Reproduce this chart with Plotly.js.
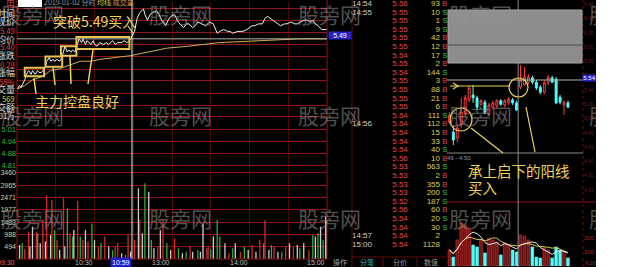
<!DOCTYPE html>
<html><head><meta charset="utf-8">
<script src="https://cdn.plot.ly/plotly-3.0.1.min.js"></script>
<style>html,body{margin:0;padding:0;background:#fff;overflow:hidden}#chart{width:596px;height:267px}</style>
</head><body><div id="chart"></div><script>
// ---------- intraday (2019-01-02) ----------
const prevClose = 5.20;
const priceMin = [0,2,3,5,6,8,9,11,12,14,16,17,19,20,22,23,25,26,28,29,31,33,34,36,37,39,40,42,43,45,
  47,48,50,51,53,54,56,57,59,60,62,64,67,69,71,74,76,78,81,83,85,87,88,91,93,95,98,99,101,103,
  105,108,110,112,115,117,119,122,124,126,129,131,133,136,138,140,143,146,149,152,155,157,160,163,165,167,171,173,175,178,
  180,182,184,187,190,192,194,196,198,202,204,207,209,212,215,217,220,222,225,227,229,231,233,235,236,239,240];
const price = [5.22,5.24,5.23,5.26,5.27,5.31,5.32,5.30,5.32,5.30,5.32,5.31,5.31,5.32,5.34,5.37,5.39,5.37,5.38,5.37,5.38,5.37,5.38,5.42,5.45,5.42,5.43,5.42,5.43,5.42,
  5.46,5.49,5.47,5.49,5.46,5.48,5.47,5.46,5.48,5.46,5.45,5.47,5.46,5.47,5.46,5.48,5.46,5.47,5.47,5.48,5.47,5.48,5.49,5.53,5.60,5.63,5.65,5.62,5.59,5.62,
  5.63,5.64,5.62,5.59,5.56,5.59,5.61,5.62,5.59,5.57,5.55,5.57,5.57,5.55,5.56,5.58,5.57,5.56,5.58,5.57,5.52,5.53,5.54,5.53,5.53,5.52,5.53,5.53,5.53,5.54,
  5.55,5.56,5.56,5.57,5.57,5.60,5.61,5.60,5.59,5.57,5.56,5.57,5.57,5.58,5.57,5.57,5.58,5.59,5.59,5.58,5.59,5.57,5.56,5.55,5.54,5.54,5.54];
const avgMin = [0,6,12,20,26,33,41,49,57,64,76,88,95,103,116,132,157,188,219,240];
const avgPrice = [5.22,5.24,5.27,5.29,5.32,5.33,5.35,5.37,5.37,5.38,5.39,5.40,5.41,5.42,5.44,5.45,5.47,5.48,5.49,5.49];
const volMin = [2,4,6,9,10,12,15,16,18,20,22,23,26,27,29,31,33,36,37,39,41,43,44,47,49,51,53,55,58,60,
  63,65,68,71,74,76,78,81,84,86,88,91,94,95,97,99,102,104,106,109,111,113,116,119,122,125,128,131,134,136,
  140,142,144,147,148,150,152,155,157,161,164,167,169,173,176,179,182,185,188,191,192,195,197,199,202,205,208,211,214,217,
  219,222,226,229,231,233,235,237,239,240];
const vol = [560,630,400,1100,500,1300,1100,1030,630,1570,700,2570,960,2370,1160,760,360,2440,500,2030,1030,900,1160,2330,900,760,1160,700,1430,760,
  500,630,900,500,360,500,630,230,160,960,300,760,2840,1570,1030,3040,2700,760,430,500,1160,1570,630,360,830,430,230,290,500,290,
  360,290,1430,430,500,360,900,1570,900,630,230,430,630,290,500,360,560,290,760,630,1570,360,560,500,290,290,500,630,500,560,
  430,630,360,960,900,1030,1300,760,1700,1570];
const volDir = [0,-1,1,1,0,0,1,-1,0,1,0,1,0,1,-1,1,0,1,0,-1,1,-1,0,1,-1,1,0,1,-1,0,
  1,-1,1,0,-1,1,1,0,-1,1,0,1,0,1,0,-1,0,-1,0,1,0,1,-1,0,1,-1,0,-1,1,0,
  -1,0,0,1,1,-1,0,-1,-1,0,1,-1,0,1,-1,0,1,0,1,-1,1,0,-1,1,0,-1,1,0,1,0,
  -1,0,1,-1,0,-1,0,-1,0,0];
const pctSteps = [8.66,7.42,6.18,4.95,3.71,2.47,1.24,0,-1.24,-2.47,-3.71,-4.95,-6.18,-7.42];
const leftPriceLabels = ['','','','','','','','','','','5.01','4.94','4.88','4.81'];
const volTicks = [494,988,1483,1977,2471,2965,3460];
const timeLabelMin = [0,60,120,180,240];
const timeLabels = ['09:30','10:30','13:00','14:00','15:00'];
const cursorMin = 89, cursorPrice = 5.49;

// ---------- tick list ----------
const tickTimes = ['14:54','14:55','','','','','','','','','','','','','14:56','','','','','','','','','','','','','14:57','15:00'];
const tickPrices = [5.56,5.55,5.55,5.55,5.55,5.55,5.54,5.55,5.54,5.55,5.55,5.55,5.55,5.54,5.54,5.54,5.54,5.54,5.56,5.53,5.53,5.53,5.53,5.52,5.56,5.54,5.54,5.54,5.54];
const tickVols = [93,10,1,9,42,12,17,2,144,3,88,21,6,111,112,15,33,40,10,563,2,355,200,187,60,20,30,2,1128];
const tickFlags = ['B','S','S','S','B','B','S','B','S','B','B','B','B','S','B','B','B','S','B','S','B','B','S','S','B','S','S','',''];

// ---------- K-line ----------
const kOpen  = [4.95,4.81,4.73,4.91,5.06,5.26,5.33,5.29,5.20,5.23,5.06,5.16,5.18,5.25,5.19,5.22,5.26,5.22,5.44,5.47,5.51,5.57,5.51,5.44,5.37,5.50,5.57,5.55,5.30,5.19,5.22];
const kClose = [5.04,4.70,4.87,5.09,5.29,5.43,5.29,5.16,5.25,5.09,5.19,5.22,5.25,5.20,5.25,5.27,5.22,5.12,5.54,5.58,5.58,5.51,5.43,5.37,5.50,5.58,5.51,5.22,5.23,5.23,5.16];
const kHigh  = [5.09,4.90,4.92,5.29,5.33,5.46,5.47,5.32,5.27,5.26,5.22,5.25,5.27,5.27,5.27,5.30,5.29,5.25,5.75,5.72,5.62,5.60,5.54,5.47,5.54,5.61,5.60,5.58,5.33,5.25,5.25];
const kLow   = [4.92,4.63,4.67,4.87,5.04,5.23,5.22,5.12,5.18,5.06,5.04,5.13,5.15,5.18,5.16,5.19,5.19,5.11,5.41,5.46,5.48,5.48,5.40,5.34,5.34,5.47,5.50,5.20,5.20,5.05,5.15];
const kVol   = [114,64,186,307,293,271,150,136,186,93,200,186,171,79,164,150,114,100,221,214,186,136,64,57,129,114,57,136,114,100,57];
const kCursor = 18, kCursorPrice = 5.54;

// ---------- helpers ----------
const W = 596, H = 267;
const px = v => v / W, py = v => 1 - v / H;
const YEL = '#ecd35a', GRID = '#8e1616', DARK = '#5c0d0d';
const kIdx = kOpen.map((_, i) => i);
const ma = n => kVol.map((_, i) => { const s = kVol.slice(Math.max(0, i - n + 1), i + 1); return s.reduce((a, b) => a + b, 0) / s.length; });
const pctVals = pctSteps.map(p => prevClose * (1 + p / 100));
const pctText = pctSteps.map(p => {
  const c = p > 0 ? '#e04848' : (p < 0 ? '#3cb43c' : '#d8d8d8');
  return '<span style="color:' + c + '">' + Math.abs(p).toFixed(2) + '%</span>';
});
const leftText = leftPriceLabels.map(t => '<span style="color:#3cb43c">' + t + '</span>');

const traces = [
  {type:'scatter', mode:'lines', x:avgMin, y:avgPrice, xaxis:'x', yaxis:'y', line:{color:'#cdb24a', width:1}, hoverinfo:'skip'},
  {type:'scatter', mode:'lines', x:priceMin, y:price, xaxis:'x', yaxis:'y', line:{color:'#f2f2f2', width:1}, hoverinfo:'skip'},
  {type:'bar', x:volMin, y:vol, width:1, xaxis:'x2', yaxis:'y3',
   marker:{color:volDir.map(d => d > 0 ? '#d42c2c' : (d < 0 ? '#2fae3c' : '#cfcfcf')), line:{width:0}}, hoverinfo:'skip'},
  {type:'candlestick', x:kIdx, open:kOpen, high:kHigh, low:kLow, close:kClose, xaxis:'x3', yaxis:'y5', whiskerwidth:0,
   increasing:{line:{color:'#ff3c3c', width:1}, fillcolor:'#000'},
   decreasing:{line:{color:'#54fcfc', width:1}, fillcolor:'#54fcfc'}, hoverinfo:'skip'},
  {type:'bar', x:kIdx, y:kVol, width:0.7, xaxis:'x4', yaxis:'y6',
   marker:{color:kIdx.map(i => kClose[i] >= kOpen[i] ? '#7a1414' : '#54fcfc'),
           line:{color:kIdx.map(i => kClose[i] >= kOpen[i] ? '#c83030' : '#54fcfc'), width:0.6}}, hoverinfo:'skip'},
  {type:'scatter', mode:'lines', x:kIdx, y:ma(10), xaxis:'x4', yaxis:'y6', line:{color:'#d8c84a', width:1}, hoverinfo:'skip'},
  {type:'scatter', mode:'lines', x:kIdx, y:ma(5), xaxis:'x4', yaxis:'y6', line:{color:'#e8e8e8', width:1}, hoverinfo:'skip'},
  // tick list
  {type:'scatter', mode:'text', x:tickTimes.map(() => 0), y:tickTimes.map((_, i) => i), text:tickTimes, textposition:'middle right',
   xaxis:'x5', yaxis:'y7', textfont:{size:8, color:'#cfcfcf', family:'Liberation Sans'}, hoverinfo:'skip'},
  {type:'scatter', mode:'text', x:tickPrices.map(() => 48), y:tickPrices.map((_, i) => i), text:tickPrices.map(v => v.toFixed(2)),
   textposition:'middle center', xaxis:'x5', yaxis:'y7',
   textfont:{size:8, color:tickPrices.map(v => v > prevClose ? '#e04848' : '#3cb43c'), family:'Liberation Sans'}, hoverinfo:'skip'},
  {type:'scatter', mode:'text', x:tickVols.map(() => 88), y:tickVols.map((_, i) => i), text:tickVols.map(String), textposition:'middle left',
   xaxis:'x5', yaxis:'y7', textfont:{size:8, color:'#d8d048', family:'Liberation Sans'}, hoverinfo:'skip'},
  {type:'scatter', mode:'text', x:tickFlags.map(() => 93), y:tickFlags.map((_, i) => i), text:tickFlags, textposition:'middle center',
   xaxis:'x5', yaxis:'y7', textfont:{size:8, color:tickFlags.map(f => f === 'B' ? '#e04040' : '#3cc43c'), family:'Liberation Sans'}, hoverinfo:'skip'}
];

const noAx = {showgrid:false, zeroline:false, showticklabels:false, ticks:'', showline:false};
const tf = (c, s) => ({size:s || 7, color:c, family:'Liberation Sans'});

const shapes = [];
const L = (x0, y0, x1, y1, color, w, dash) => shapes.push({type:'line', xref:'paper', yref:'paper', x0:px(x0), y0:py(y0), x1:px(x1), y1:py(y1), line:{color, width:w || 1, dash:dash || 'solid'}, layer:'above'});
// frames
L(17, 0, 17, 259, GRID); L(327, 0, 327, 259, GRID); L(17, 259, 327, 259, GRID);
L(352, 0, 352, 267, DARK); L(352, 257, 447, 257, DARK); L(383, 257, 383, 267, DARK); L(417, 257, 417, 267, DARK);
L(583, 0, 583, 267, '#6a1010', 1, 'dot'); L(447, 202, 596, 202, GRID);
// left crosshair
shapes.push({type:'line', xref:'x', yref:'y', x0:0, x1:240, y0:cursorPrice, y1:cursorPrice, line:{color:'#b4b4b4', width:1}});
shapes.push({type:'line', xref:'x', yref:'paper', x0:cursorMin, x1:cursorMin, y0:py(259), y1:1, line:{color:'#e6e6e6', width:1}});
// right crosshair
shapes.push({type:'line', xref:'x3', yref:'paper', x0:kCursor - 0.6, x1:kCursor - 0.6, y0:0, y1:1, line:{color:'#8c8c8c', width:1}, layer:'above'});
shapes.push({type:'line', xref:'paper', yref:'y5', x0:px(447), x1:px(583), y0:kCursorPrice, y1:kCursorPrice, line:{color:'#b0b0b0', width:1}, layer:'above'});
L(447, 153, 583, 153, '#8a8a8a');
// grey popup box
shapes.push({type:'rect', xref:'paper', yref:'paper', x0:px(448), x1:px(582), y0:py(63), y1:py(10), fillcolor:'#8d8d8d', line:{color:'#a6a6a6', width:1}, layer:'above'});
L(448, 45, 582, 45, '#4c4c4c');
// yellow boxes on intraday
const box = (t0, t1, p0, p1) => shapes.push({type:'rect', xref:'x', yref:'y', x0:t0, x1:t1, y0:p0, y1:p1, line:{color:'#e8c44e', width:2}, layer:'above'});
box(6, 21, 5.29, 5.335); box(22, 35, 5.34, 5.395); box(34, 46, 5.40, 5.45); box(46, 87, 5.435, 5.50);
L(36, 94, 34, 78, YEL, 1.5); L(55, 85, 53, 67, YEL, 1.5); L(71, 84, 70, 56, YEL, 1.5); L(88, 84, 93, 50, YEL, 1.5);
L(128, 26, 133, 33, YEL, 1.2);
// yellow marks on K-line
L(450, 86, 510, 86, YEL, 1.2);
shapes.push({type:'path', xref:'paper', yref:'paper', path:'M' + px(453) + ',' + py(83) + ' L' + px(458) + ',' + py(86) + ' L' + px(453) + ',' + py(89), line:{color:YEL, width:1.2}, layer:'above'});
shapes.push({type:'circle', xref:'paper', yref:'paper', x0:px(509), x1:px(528), y0:py(97), y1:py(78), line:{color:YEL, width:1.2}, layer:'above'});
shapes.push({type:'circle', xref:'paper', yref:'paper', x0:px(450), x1:px(472), y0:py(131), y1:py(108), line:{color:YEL, width:1.2}, layer:'above'});
L(526, 107, 535, 152, YEL, 1.2); L(471, 128, 503, 153, YEL, 1.2);
// redaction
shapes.push({type:'rect', xref:'paper', yref:'paper', x0:px(18), x1:px(42), y0:py(7), y1:1, fillcolor:'#ffffff', line:{width:0}, layer:'above'});

const ann = [];
const T = (x, y, text, o) => { o = o || {}; ann.push({xref:'paper', yref:'paper', x:px(x), y:py(y), text, showarrow:false,
  xanchor:o.xa || 'left', yanchor:'middle', font:{size:o.s || 8, color:o.c || '#c8c8c8', family:o.f || 'Liberation Sans, Noto Sans CJK SC'},
  bgcolor:o.bg, borderpad:o.bp == null ? 0 : o.bp, width:o.w, height:o.h, align:o.al || 'center'}); };
const CJK = 'Noto Sans CJK SC';
// watermarks
[0, 148, 297, 448].forEach(x => [14, 115, 218].forEach(y => T(x, y, '股旁网', {s:21, c:'rgba(150,150,150,0.55)', f:CJK})));
[14, 115, 218].forEach(y => T(588, y, '股', {s:21, c:'rgba(150,150,150,0.55)', f:CJK}));
// header
T(43, 2, '<span style="color:#9a9a9a">2019-01-02 分时</span> <span style="color:#d8c040">均线</span> <span style="color:#d8a040">成交量</span>', {s:7, f:CJK});
// info panel
[[3,'电','#c84040'],[13,'时间','#d8d8d8'],[22,'现价','#d8d8d8'],[30,'5.49','#e04444'],[39,'均价','#d8d8d8'],[47,'5.40','#e04444'],
 [55,'涨跌','#d8d8d8'],[64,'0.29','#e04444'],[72,'涨幅','#d8d8d8'],[81,'5.58%','#e04444'],[90,'成交量','#d8d8d8'],[98,'569','#d8d040'],
 [107,'成交额','#d8d8d8'],[116,'31万','#d8d8d8']].forEach(r => T(16, r[0], r[1], {xa:'right', c:r[2], s:(/[0-9]/.test(r[1]) ? 7.5 : 9), f:CJK}));
// callouts
T(52, 21, '突破5.49买入', {s:14, c:YEL, f:CJK});
T(34, 101, '主力控盘良好', {s:14, c:YEL, f:CJK});
T(467, 170, '承上启下的阳线', {s:14.5, c:YEL, f:CJK});
T(467, 187, '买入', {s:14.5, c:YEL, f:CJK});
// time axis labels
timeLabelMin.forEach((m, i) => ann.push({xref:'x', yref:'paper', x:m, y:py(262), text:timeLabels[i], showarrow:false, xanchor:'right', yanchor:'middle',
  font:{size:7, color:i === 0 ? '#d86a6a' : '#bdbdbd', family:'Liberation Sans'}}));
ann.push({xref:'x', yref:'paper', x:cursorMin, y:py(262), text:'10:59', showarrow:false, xanchor:'right', yanchor:'middle',
  font:{size:7, color:'#ffffff', family:'Liberation Sans'}, bgcolor:'#1c1cd0', borderpad:1});
T(340, 35, '5.49', {s:7, c:'#ffffff', bg:'#2424c8', w:22, h:7, xa:'center'});
T(589, 78, '5.54', {s:6, c:'#ffffff', bg:'#2424c8', w:13, h:6, xa:'center'});
T(332, 262, '操作', {s:7, c:'#a0a0a0', f:CJK});
T(367, 262, '分笔', {s:7, c:'#2ab8b8', f:CJK, xa:'center'});
T(400, 262, '分价', {s:7, c:'#9a9a9a', f:CJK, xa:'center'});
T(431, 262, '数值', {s:7, c:'#9a9a9a', f:CJK, xa:'center'});
T(446, 158, '49 - 4.50', {s:6, c:'#9a9a9a'});
T(584, 263, 'X10', {s:6, c:'#a02828'});

const layout = {
  width:W, height:H, margin:{l:0, r:0, t:0, b:0}, paper_bgcolor:'#000', plot_bgcolor:'#000', showlegend:false,
  font:{family:'Liberation Sans', size:7, color:'#c8c8c8'}, hovermode:false,
  xaxis:{domain:[px(17), px(327)], range:[0, 240], anchor:'y', tick0:0, dtick:30, showgrid:true, gridcolor:'#4e0a0a', zeroline:false, showticklabels:false, ticks:'', showline:false},
  yaxis:{domain:[py(169), py(2)], range:[4.7931, 5.6872], anchor:'x', tickmode:'array', tickvals:pctVals, ticktext:leftText, showgrid:true, gridcolor:GRID,
         zeroline:false, ticks:'', showline:false, tickfont:tf('#3cb43c', 7.5)},
  yaxis2:{overlaying:'y', side:'right', anchor:'x', range:[4.7931, 5.6872], tickmode:'array', tickvals:pctVals, ticktext:pctText, showgrid:false,
          zeroline:false, ticks:'', showline:false, tickfont:tf('#e04848', 7)},
  xaxis2:{domain:[px(17), px(327)], range:[0, 240], anchor:'y3', tick0:0, dtick:30, showgrid:true, gridcolor:'#4e0a0a', zeroline:false, showticklabels:false, ticks:'', showline:false},
  yaxis3:{domain:[py(259), py(170)], range:[0, 3574], anchor:'x2', tickmode:'array', tickvals:volTicks, ticktext:volTicks.map(String), showgrid:true, gridcolor:GRID,
          zeroline:false, ticks:'', showline:false, tickfont:tf('#d8d098', 7)},
  yaxis4:{overlaying:'y3', side:'right', anchor:'x2', range:[0, 3574], tickmode:'array', tickvals:volTicks, ticktext:volTicks.map(String), showgrid:false,
          zeroline:false, ticks:'', showline:false, tickfont:tf('#cfc070', 7)},
  xaxis3:Object.assign({domain:[px(447), px(583)], range:[-0.6, 33.8], anchor:'y5', rangeslider:{visible:false}}, noAx),
  yaxis5:{domain:[py(201), 1], range:[3.846, 6.66], anchor:'x3', side:'right', showgrid:false, zeroline:false, ticks:'', dtick:0.2, tickformat:'.2f',
          tickfont:tf('#6a1c1c', 5), showline:false},
  xaxis4:Object.assign({domain:[px(447), px(583)], range:[-0.6, 33.8], anchor:'y6'}, noAx),
  yaxis6:{domain:[py(266), py(203)], range:[0, 450], anchor:'x4', side:'right', tickmode:'array', tickvals:[100, 200], ticktext:['100','200'],
          showgrid:false, zeroline:false, ticks:'', showline:false, tickfont:tf('#a02828', 6)},
  xaxis5:{domain:[px(352), px(447)], range:[0, 95], anchor:'y7', visible:false},
  yaxis7:{domain:[0, 1], range:[30.58, -0.465], anchor:'x5', visible:false},
  shapes, annotations:ann
};
Plotly.newPlot('chart', traces, layout, {staticPlot:true, displayModeBar:false});
</script></body></html>
